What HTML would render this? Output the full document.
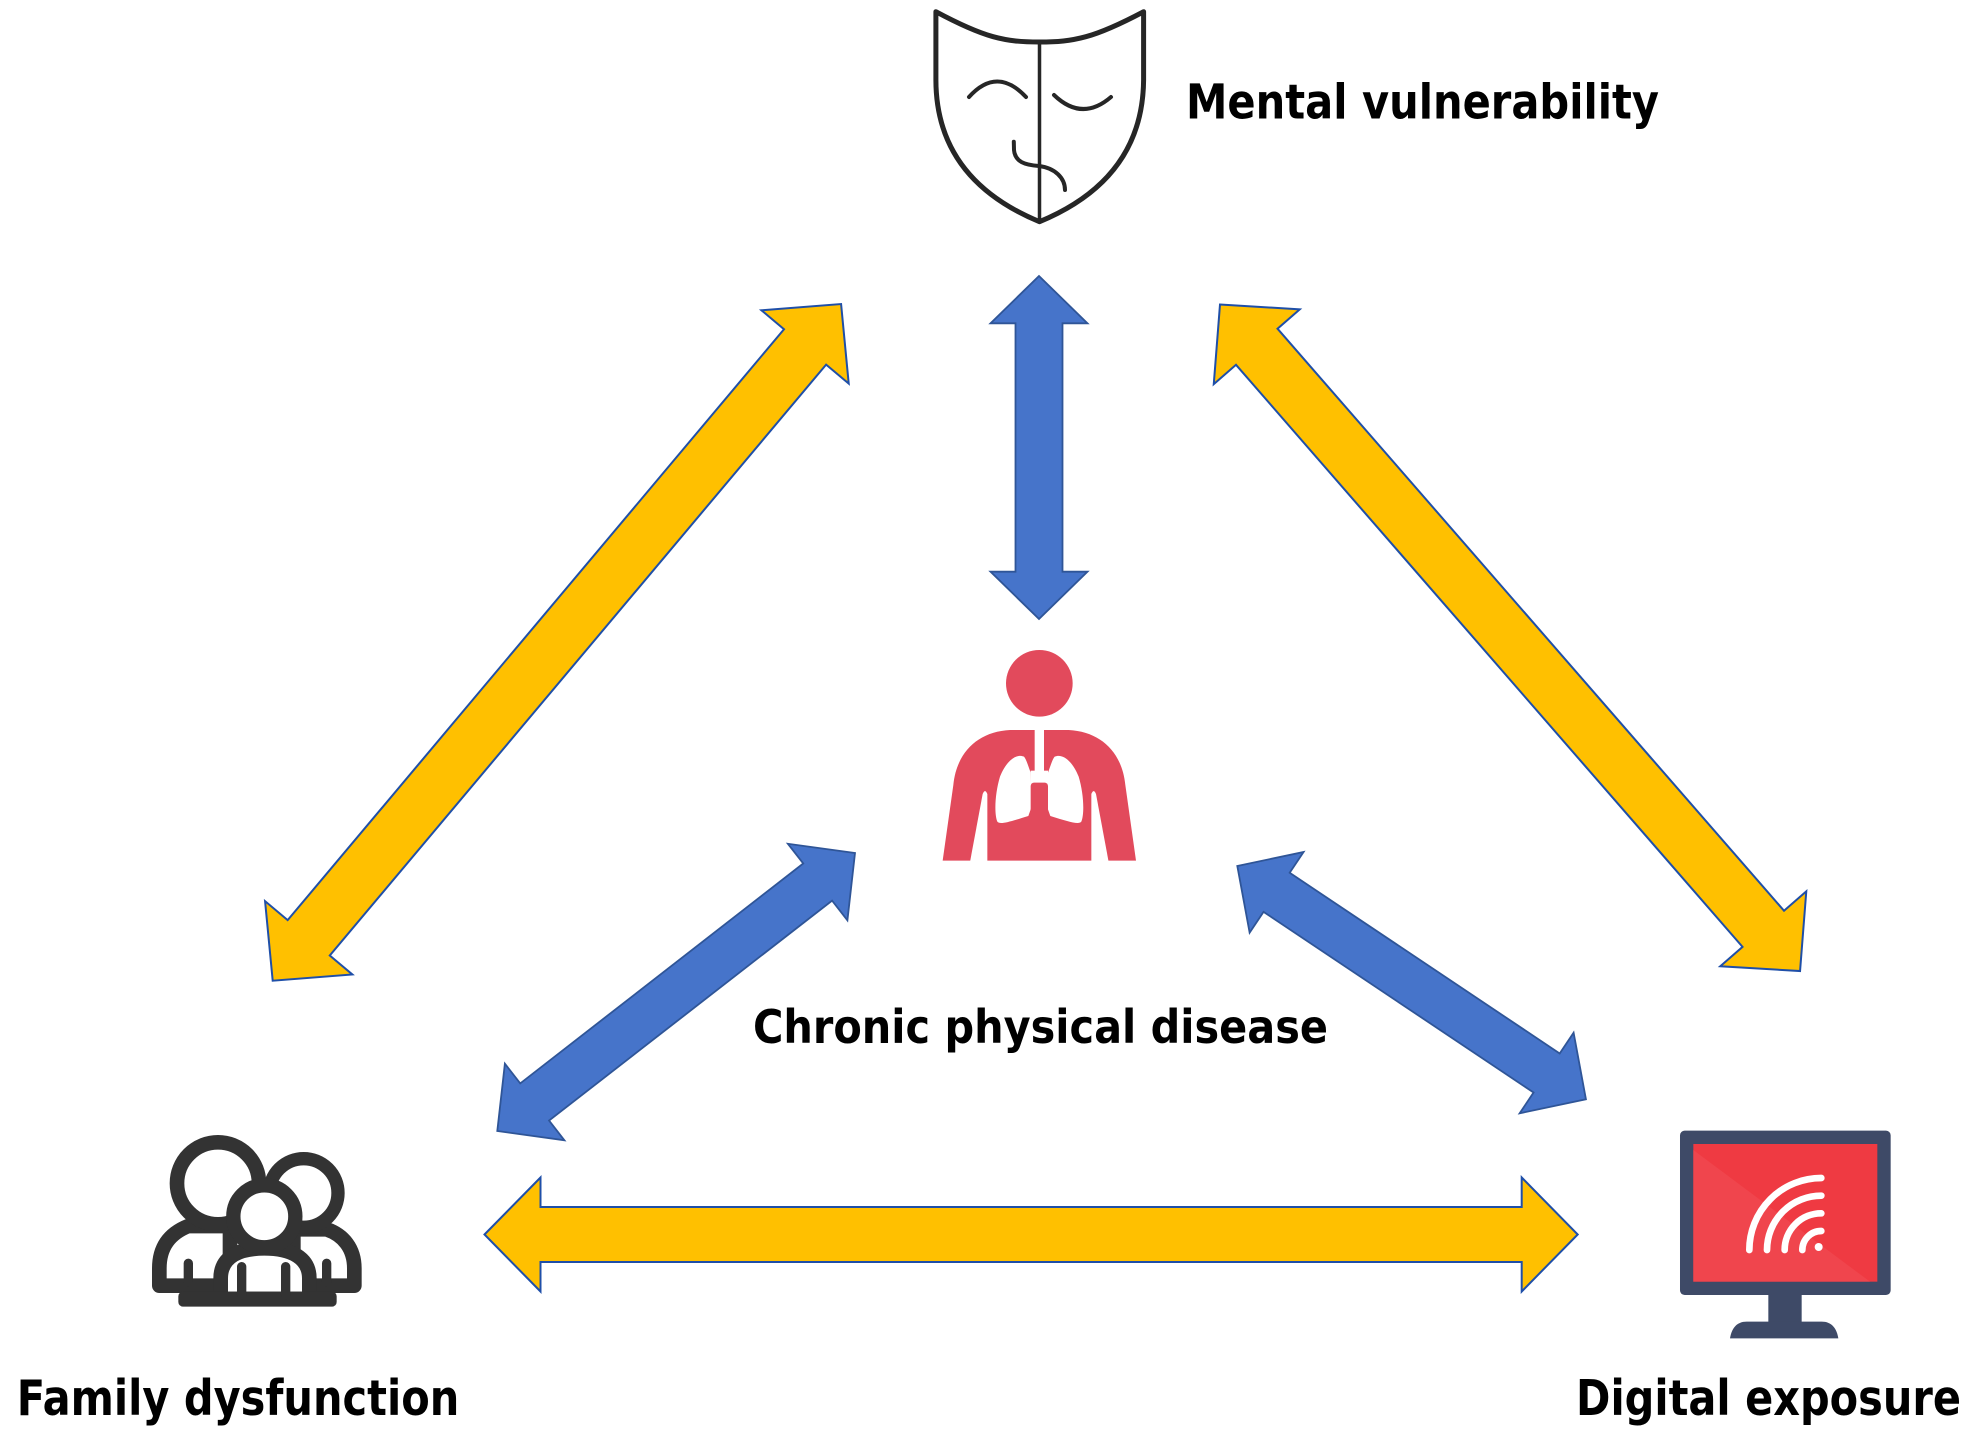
<!DOCTYPE html>
<html>
<head>
<meta charset="utf-8">
<style>
html,body{margin:0;padding:0;background:#fff;}
svg{display:block;}
text{font-family:"DejaVu Sans","Liberation Sans",sans-serif;font-weight:bold;fill:#000;}
</style>
</head>
<body>
<svg width="1969" height="1433" viewBox="0 0 1969 1433" xmlns="http://www.w3.org/2000/svg">
<rect x="0" y="0" width="1969" height="1433" fill="#fff"/>

<!-- Mask icon -->
<g fill="none" stroke="#262626" stroke-linecap="round" stroke-linejoin="round">
  <path d="M935.9,11.7 C985,38 1005,42 1039.5,42 C1074,42 1094,38 1143.6,11.7 L1143.6,80 C1143,150 1104,195 1039.5,221.7 C975,195 936,150 935.9,80 Z" stroke-width="5"/>
  <path d="M1039.5,42 L1039.5,220" stroke-width="3.5"/>
  <path d="M969,97 Q997,66 1026,97" stroke-width="4"/>
  <path d="M1054,95 Q1082,122 1111,97" stroke-width="4"/>
  <path d="M1013.8,141.7 L1014,150 C1015,162 1025,165 1039,166 C1055,168 1065,178 1065,190" stroke-width="4"/>
</g>
<text x="1186" y="118.3" font-size="48" textLength="473" lengthAdjust="spacingAndGlyphs">Mental vulnerability</text>

<!-- Yellow arrows -->
<g fill="#FFC000" stroke="#1F4FA8" stroke-width="2" stroke-linejoin="miter">
  <polygon transform="translate(272.7 980.7) rotate(-49.97)" points="0,0 56,-57 56,-27.5 827.7,-27.5 827.7,-57 883.7,0 827.7,57 827.7,27.5 56,27.5 56,57"/>
  <polygon transform="translate(1220 304.5) rotate(48.97)" points="0,0 56,-57 56,-27.5 827.6,-27.5 827.6,-57 883.6,0 827.6,57 827.6,27.5 56,27.5 56,57"/>
  <polygon transform="translate(484.5 1234.5)" points="0,0 56,-57 56,-27.5 1037.2,-27.5 1037.2,-57 1093.2,0 1037.2,57 1037.2,27.5 56,27.5 56,57"/>
</g>

<!-- Blue arrows -->
<g fill="#4674CA" stroke="#2F5597" stroke-width="1.8" stroke-linejoin="miter">
  <polygon transform="translate(1039 276) rotate(90)" points="0,0 47.3,-48.5 47.3,-23.5 295.7,-23.5 295.7,-48.5 343,0 295.7,48.5 295.7,23.5 47.3,23.5 47.3,48.5"/>
  <polygon transform="translate(497.3 1131) rotate(-37.85)" points="0,0 47.3,-48.5 47.3,-23.5 405.7,-23.5 405.7,-48.5 453,0 405.7,48.5 405.7,23.5 47.3,23.5 47.3,48.5"/>
  <polygon transform="translate(1237.3 866) rotate(33.79)" points="0,0 47.3,-48.5 47.3,-23.5 372.2,-23.5 372.2,-48.5 419.5,0 372.2,48.5 372.2,23.5 47.3,23.5 47.3,48.5"/>
</g>

<!-- Person with lungs -->
<g transform="translate(900 620) scale(0.33333)">
  <circle cx="418" cy="190" r="100" fill="#E24A5C"/>
  <path d="M128,722 L160,495 C170,395 235,335 330,330 L506,330 C601,335 666,395 676,495 L708,722 Z" fill="#E24A5C"/>
  <rect x="404" y="320" width="28" height="145" fill="#fff"/>
  <rect x="392" y="452" width="52" height="45" fill="#fff"/>
  <path d="M372,410 C350,400 320,420 300,470 C285,520 282,580 292,605 C300,615 330,605 385,588 L395,560 L392,458 C385,440 380,420 372,410 Z" fill="#fff"/>
  <path d="M464,410 C486,400 516,420 536,470 C551,520 554,580 544,605 C536,615 506,605 451,588 L441,560 L444,458 C451,440 456,420 464,410 Z" fill="#fff"/>
  <rect x="392" y="488" width="52" height="140" rx="10" fill="#E24A5C"/>
  <path d="M248,522 Q255,505 262,522 L262,726 L210,726 Z" fill="#fff"/>
  <path d="M588,522 Q581,505 574,522 L574,726 L626,726 Z" fill="#fff"/>
</g>
<text x="753" y="1043" font-size="46" textLength="575" lengthAdjust="spacingAndGlyphs">Chronic physical disease</text>

<!-- Family icon -->
<g transform="translate(120 1100) scale(0.33333)" stroke="#333" stroke-linejoin="round">
  <path d="M703,557 L703,505 C703,445 670,405 620,388 L520,388 L520,557 Z" fill="#fff" stroke-width="44"/>
  <path d="M118,557 L118,505 C118,440 150,400 205,378 L330,378 L330,557 Z" fill="#fff" stroke-width="44"/>
  <circle cx="551" cy="279" r="103" fill="#fff" stroke-width="40"/>
  <circle cx="294" cy="250" r="123" fill="#fff" stroke-width="44"/>
  <path d="M302,597 L302,535 C302,475 350,445 433,445 C516,445 568,475 568,535 L568,597 Z" fill="#fff" stroke-width="44"/>
  <circle cx="433" cy="349" r="93" fill="#fff" stroke-width="43"/>
  <rect x="175" y="575" width="475" height="45" rx="14" fill="#333" stroke="none"/>
  <g stroke-width="28" stroke-linecap="round" fill="none">
    <line x1="205" y1="490" x2="205" y2="545"/>
    <line x1="365" y1="500" x2="365" y2="585"/>
    <line x1="497" y1="500" x2="497" y2="585"/>
    <line x1="620" y1="490" x2="620" y2="545"/>
  </g>
</g>
<text x="16.7" y="1415" font-size="49" textLength="442.6" lengthAdjust="spacingAndGlyphs">Family dysfunction</text>

<!-- Monitor icon -->
<g transform="translate(1650 1100) scale(0.33333)">
  <rect x="90" y="92" width="632" height="493" rx="14" fill="#3E4A67"/>
  <rect x="130" y="132" width="552" height="413" fill="#EF3A42"/>
  <polygon points="130,150 130,545 660,545" fill="#F0454D"/>
  <rect x="355" y="580" width="100" height="90" fill="#3E4A67"/>
  <path d="M240,715 C245,685 260,665 290,665 L515,665 C545,665 560,685 565,715 Z" fill="#3E4A67"/>
  <g fill="none" stroke="#fff" stroke-width="20" stroke-linecap="round">
    <path d="M298,450 A216,216 0 0 1 514,234"/>
    <path d="M351,450 A163,163 0 0 1 514,287"/>
    <path d="M404,450 A110,110 0 0 1 514,340"/>
    <path d="M457,450 A57,57 0 0 1 514,393"/>
  </g>
  <circle cx="506" cy="441" r="12" fill="#fff"/>
</g>
<text x="1576" y="1415" font-size="49" textLength="385" lengthAdjust="spacingAndGlyphs">Digital exposure</text>
</svg>
</body>
</html>
